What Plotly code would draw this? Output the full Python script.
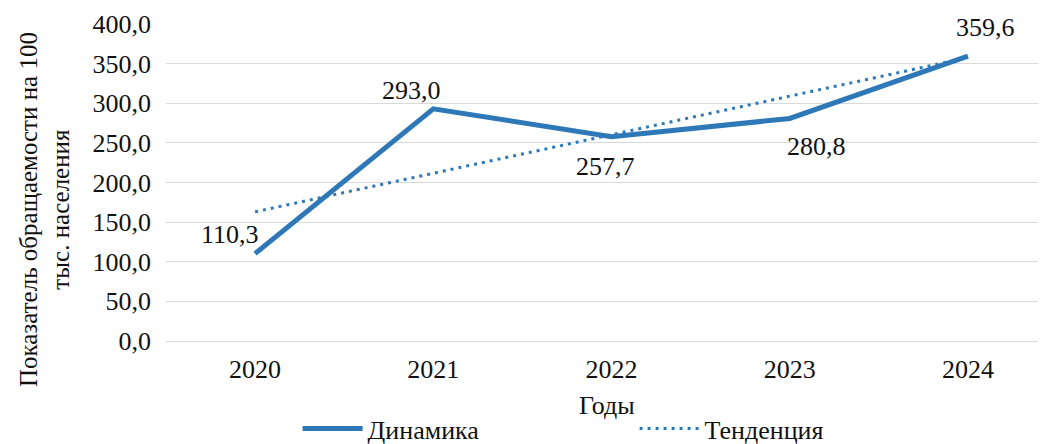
import plotly.graph_objects as go

years = ["2020", "2021", "2022", "2023", "2024"]
dynamics = [110.3, 293.0, 257.7, 280.8, 359.6]
trend = [163.0, 211.6, 260.3, 308.9, 357.6]
label_shift_x = [-25, -22, -6, 27, 18]
label_shift_y = [19, 18, -30, -28, 29]

BLUE = "#2E78B7"
FONT = "Times New Roman, Liberation Serif, DejaVu Serif, serif"
TXT = "#111111"
FS = 26

fig = go.Figure()
fig.add_trace(go.Scatter(
    x=years, y=dynamics, mode="lines", name="Динамика",
    line=dict(color=BLUE, width=5),
))
fig.add_trace(go.Scatter(
    x=years, y=trend, mode="lines", name="Тенденция",
    line=dict(color=BLUE, width=3, dash="3px,5px"),
))

annotations = []
for i, (yv, dx, dy) in enumerate(zip(dynamics, label_shift_x, label_shift_y)):
    annotations.append(dict(
        x=i, y=yv, xref="x", yref="y",
        text=f"{yv:.1f}".replace(".", ","), showarrow=False,
        xanchor="center", yanchor="middle",
        xshift=dx, yshift=dy, font=dict(family=FONT, size=FS, color=TXT),
    ))
annotations.append(dict(
    x=-0.1375, y=0.413, xref="paper", yref="paper",
    text="Показатель обращаемости на 100<br>тыс. населения",
    textangle=-90, showarrow=False, xanchor="center", yanchor="middle",
    font=dict(family=FONT, size=25, color=TXT),
))
annotations.append(dict(
    x=0.501, y=-0.205, xref="paper", yref="paper",
    text="Годы", showarrow=False, xanchor="center", yanchor="middle",
    font=dict(family=FONT, size=FS, color=TXT),
))

fig.update_layout(
    width=1038, height=436,
    margin=dict(l=158, r=0, t=16, b=103, autoexpand=False),
    paper_bgcolor="white", plot_bgcolor="white",
    font=dict(family=FONT, size=FS, color=TXT),
    separators=", ",
    showlegend=True,
    annotations=annotations,
    legend=dict(
        orientation="h", xref="container", yref="paper",
        x=0.279, xanchor="left", y=-0.276, yanchor="middle",
        entrywidth=262, entrywidthmode="pixels",
        font=dict(family=FONT, size=26, color=TXT),
        itemwidth=60,
    ),
)
fig.update_xaxes(
    type="category", range=[-0.5, 4.438], automargin=False,
    showgrid=False, showline=False, ticks="", ticklabelstandoff=10,
    tickfont=dict(family=FONT, size=FS, color=TXT),
)
fig.update_yaxes(
    range=[0, 400], dtick=50, tickformat=".1f", automargin=False,
    showgrid=True, gridcolor="#D9D9D9", gridwidth=1,
    zeroline=True, zerolinecolor="#D9D9D9", zerolinewidth=1,
    showline=False, ticks="", ticklabelstandoff=14,
    tickfont=dict(family=FONT, size=FS, color=TXT),
)

fig.write_html("out.html")
